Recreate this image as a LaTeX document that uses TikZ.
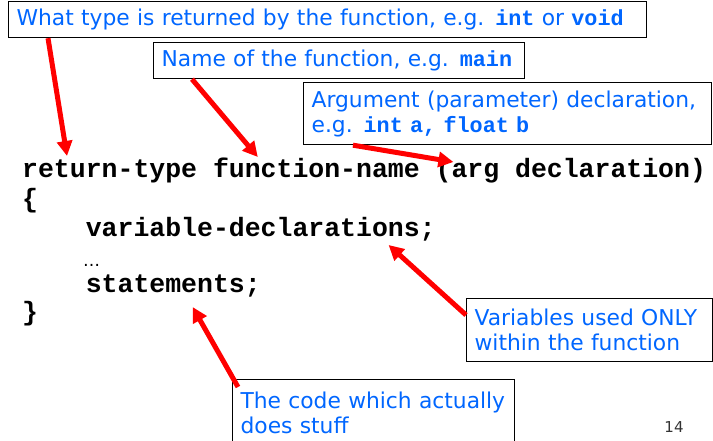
\documentclass[tikz,border=0pt]{standalone}
\usepackage{fontspec}
\setmainfont{DejaVu Sans}
\setmonofont{Liberation Mono}
\usetikzlibrary{arrows.meta}

\definecolor{noteblue}{RGB}{0,102,255}
\newcommand{\cword}[1]{\textbf{\texttt{#1}}}

\begin{document}
\begin{tikzpicture}[x=1bp, y=-1bp,
  notebox/.style={draw, line width=1.2bp, anchor=north west, inner xsep=8bp, inner ysep=0pt,
    align=left, text=noteblue, font=\fontsize{21.8bp}{25bp}\selectfont},
  codetext/.style={anchor=base west, inner sep=0pt, font=\fontsize{26.5bp}{29bp}\selectfont\ttfamily\bfseries},
  redarrow/.style={red, line width=5bp, -{Triangle[length=15bp,width=15bp]}}]
  \clip (0,0) rectangle (713,441);

  % the function skeleton
  \node[codetext] (rettype) at (22,178) {return-type};
  \node[codetext] (funcname) at (212.8,178) {function-name};
  \node[codetext] (argdecl) at (435.4,178) {(arg declaration)};
  \node[codetext] (lbrace) at (22,208) {\{};
  \node[codetext] (vardecl) at (85.6,237) {variable-declarations;};
  \node[anchor=base west, inner sep=0pt, font=\fontsize{17bp}{19bp}\selectfont] (ellip) at (83,267) {…};
  \node[codetext] (stmts) at (85.6,293) {statements;};
  \node[codetext] (rbrace) at (22,321) {\}};

  % notes
  \node[notebox, text width=622bp, minimum height=36bp] (typenote) at (8,1)
    {What type is returned by the function, e.g. \cword{int} or \cword{void}};
  \node[notebox, text width=355bp, minimum height=36bp] (namenote) at (153,42)
    {Name of the function, e.g. \cword{main}};
  \node[notebox, text width=392bp, minimum height=62bp] (argnote) at (303,82)
    {Argument (parameter) declaration,\\e.g. \cword{int a, float b}};
  \node[notebox, text width=230bp, minimum height=63bp] (varnote) at (466,298)
    {Variables used ONLY\\within the function};
  \node[notebox, text width=266bp, minimum height=66bp] (stmtnote) at (232,379)
    {The code which actually\\does stuff};

  \node[font=\fontsize{15bp}{17bp}\selectfont, text=black!80] (pagenum) at (674,427) {14};

  % pointers
  \draw[redarrow] ([shift={(40,0)}]typenote.south west) -- ([shift={(45,-22)}]rettype.base west);
  \draw[redarrow] ([shift={(39,0)}]namenote.south west) -- ([shift={(45,-21)}]funcname.base west);
  \draw[redarrow] ([shift={(50,0)}]argnote.south west) -- ([shift={(18,-16)}]argdecl.base west);
  \draw[redarrow] ([shift={(0,17)}]varnote.north west) -- ([shift={(303,8)}]vardecl.base west);
  \draw[redarrow] ([shift={(6,8)}]stmtnote.north west) -- ([shift={(107,14)}]stmts.base west);
\end{tikzpicture}
\end{document}
